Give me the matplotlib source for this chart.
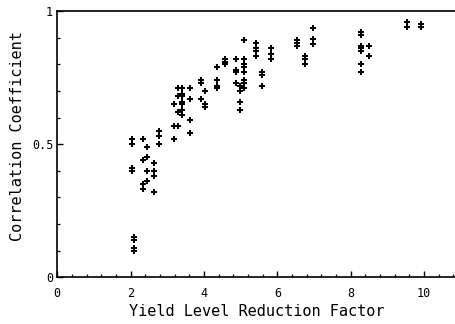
import matplotlib
matplotlib.use("Agg")
import matplotlib.pyplot as plt
from matplotlib.ticker import MultipleLocator

# Data (x = yield level reduction factor, y = correlation coefficient)
groups_x = [2.05, 2.10, 2.33, 2.44, 2.65, 2.78, 3.18, 3.29, 3.41, 3.63, 3.93, 4.03,
            4.35, 4.56, 4.88, 4.98, 5.08, 5.41, 5.59, 5.83, 6.54, 6.76, 6.97,
            8.29, 8.49, 9.54, 9.91]
groups_y = [
    [0.52, 0.50, 0.41, 0.40],
    [0.15, 0.14, 0.11, 0.10],
    [0.52, 0.44, 0.35, 0.33],
    [0.49, 0.45, 0.40, 0.36],
    [0.43, 0.40, 0.38, 0.32],
    [0.55, 0.53, 0.50],
    [0.65, 0.57, 0.52],
    [0.71, 0.68, 0.62, 0.57],
    [0.71, 0.69, 0.68, 0.66, 0.65, 0.63, 0.61],
    [0.71, 0.67, 0.59, 0.54],
    [0.74, 0.73, 0.67],
    [0.70, 0.65, 0.64],
    [0.79, 0.74, 0.72, 0.71],
    [0.82, 0.81, 0.80],
    [0.82, 0.78, 0.77, 0.73],
    [0.72, 0.70, 0.66, 0.63],
    [0.89, 0.82, 0.80, 0.79, 0.77, 0.74, 0.73, 0.71],
    [0.88, 0.86, 0.85, 0.83],
    [0.77, 0.76, 0.72],
    [0.86, 0.84, 0.82],
    [0.89, 0.88, 0.87],
    [0.83, 0.82, 0.80],
    [0.935, 0.895, 0.875],
    [0.92, 0.91, 0.87, 0.86, 0.85, 0.80, 0.77],
    [0.87, 0.83],
    [0.96, 0.94],
    [0.95, 0.94],
]
x_ticks = [0, 2, 4, 6, 8, 10]
y_ticks = [0, 0.5, 1]
y_tick_labels = ["0", "0.5", "1"]
x_label = "Yield Level Reduction Factor"
y_label = "Correlation Coefficient"

xs, ys = [], []
for gx, gy in zip(groups_x, groups_y):
    for v in gy:
        xs.append(gx)
        ys.append(v)

plt.rcParams['font.family'] = ['DejaVu Sans Mono']

fig = plt.figure(figsize=(4.56, 3.24), dpi=100)
ax = fig.add_axes([57.3 / 456, 1 - 277.3 / 324, (456 - 57.3) / 456, (277.3 - 11) / 324])

ax.plot(xs, ys, linestyle='none', marker='P', markersize=3.9, color='black',
        markeredgewidth=0, clip_on=False)

ax.set_xlim(0, 10.87)
ax.set_ylim(0, 1)
ax.set_xticks(x_ticks)
ax.set_xticklabels([str(t) for t in x_ticks])
ax.set_yticks(y_ticks)
ax.set_yticklabels(y_tick_labels)
ax.xaxis.set_minor_locator(MultipleLocator(0.4))
ax.yaxis.set_minor_locator(MultipleLocator(0.1))

ax.tick_params(axis='both', which='major', direction='in', length=4, width=1.0,
               labelsize=8.5, color='black')
ax.tick_params(axis='both', which='minor', direction='in', length=2, width=0.9)
ax.tick_params(axis='x', which='both', pad=7, top=False)
ax.tick_params(axis='y', which='both', pad=3, right=False)

for s in ['left', 'bottom', 'top']:
    ax.spines[s].set_linewidth(1.2)
ax.spines['right'].set_visible(False)

ax.set_xlabel(x_label, fontsize=11, labelpad=3)
ax.set_ylabel(y_label, fontsize=11)
ax.yaxis.set_label_coords(-0.082, 0.53)

fig.savefig("out.png", dpi=100)
